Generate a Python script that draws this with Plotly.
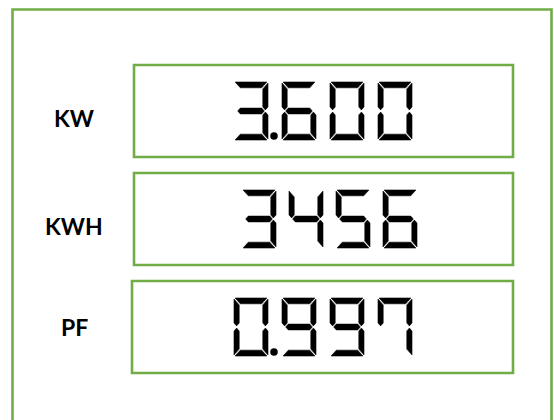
import plotly.graph_objects as go

# ---- data ----
labels = ["KW", "KWH", "PF"]
values = ["3.600", "3456", "0.997"]

# ---- layout / style ----
W_PX, H_PX = 554, 420
GREEN = "#70AD47"
boxes_x0 = [134, 134, 132]
boxes_x1 = [513, 513, 513]
boxes_y0 = [65, 173, 281]
boxes_y1 = [157, 265, 373]
digit_start = [234, 242, 234]
digit_pitch = [48, 47, 48]
DIG_W, DIG_H, TH, TV, GAP = 34, 58, 5.8, 5.2, 1.1
label_x = 74
label_dy = [7, 7, 0]

SEGS = {"0": "abcdef", "1": "bc", "2": "abdeg", "3": "abcdg", "4": "bcfg",
        "5": "acdfg", "6": "acdefg", "7": "abcf", "8": "abcdefg", "9": "abcdfg"}


def seg_poly(s, L, Tp):
    R, B = L + DIG_W, Tp + DIG_H
    M = Tp + DIG_H / 2
    h, v, e = TH, TV, GAP
    if s == "a":
        return [(L + e, Tp), (R - e, Tp), (R - v - e, Tp + h), (L + v + e, Tp + h)]
    if s == "d":
        return [(L + e, B), (R - e, B), (R - v - e, B - h), (L + v + e, B - h)]
    if s == "g":
        return [(L + v / 2 + e, M), (L + v + e, M - h / 2), (R - v - e, M - h / 2),
                (R - v / 2 - e, M), (R - v - e, M + h / 2), (L + v + e, M + h / 2)]
    if s == "f":
        return [(L, Tp + e), (L + v, Tp + h + e), (L + v, M - h / 2 - e), (L + v / 2, M - e), (L, M - h / 2 - e)]
    if s == "b":
        return [(R, Tp + e), (R - v, Tp + h + e), (R - v, M - h / 2 - e), (R - v / 2, M - e), (R, M - h / 2 - e)]
    if s == "e":
        return [(L, B - e), (L + v, B - h - e), (L + v, M + h / 2 + e), (L + v / 2, M + e), (L, M + h / 2 + e)]
    if s == "c":
        return [(R, B - e), (R - v, B - h - e), (R - v, M + h / 2 + e), (R - v / 2, M + e), (R, M + h / 2 + e)]


fig = go.Figure()
shapes = []
annotations = []

# outer frame
shapes.append(dict(type="rect", xref="x", yref="y", x0=12.5, x1=551.5, y0=9.5, y1=440,
                   line=dict(color=GREEN, width=2.6), fillcolor="rgba(0,0,0,0)", layer="below"))

for i, (lab, val) in enumerate(zip(labels, values)):
    shapes.append(dict(type="rect", xref="x", yref="y", x0=boxes_x0[i], x1=boxes_x1[i],
                       y0=boxes_y0[i], y1=boxes_y1[i],
                       line=dict(color=GREEN, width=2.6), fillcolor="white", layer="below"))
    cy = (boxes_y0[i] + boxes_y1[i]) / 2
    top = cy - DIG_H / 2
    annotations.append(dict(x=label_x, y=cy + label_dy[i], xref="x", yref="y", text="<b>%s</b>" % lab,
                            showarrow=False, xanchor="center", yanchor="middle",
                            font=dict(family="Lato", size=23, color="black")))
    k = 0
    for ch in val:
        if ch == ".":
            dx = digit_start[i] + k * digit_pitch[i] - (digit_pitch[i] - DIG_W) / 2 - 1
            fig.add_trace(go.Scatter(x=[dx], y=[top + DIG_H - 4], mode="markers",
                                     marker=dict(color="black", size=7.5, line=dict(width=0)),
                                     hoverinfo="skip", showlegend=False))
            continue
        L = digit_start[i] + k * digit_pitch[i]
        for s in SEGS[ch]:
            pts = seg_poly(s, L, top)
            xs = [p[0] for p in pts] + [pts[0][0]]
            ys = [p[1] for p in pts] + [pts[0][1]]
            fig.add_trace(go.Scatter(x=xs, y=ys, mode="lines", fill="toself",
                                     fillcolor="black", line=dict(width=0.6, color="black"),
                                     hoverinfo="skip", showlegend=False))
        k += 1

fig.update_layout(
    width=W_PX, height=H_PX, margin=dict(l=0, r=0, t=0, b=0),
    paper_bgcolor="white", plot_bgcolor="white",
    xaxis=dict(range=[0, W_PX], visible=False, fixedrange=True),
    yaxis=dict(range=[H_PX, 0], visible=False, fixedrange=True),
    shapes=shapes, annotations=annotations, showlegend=False,
)
fig.write_html("out.html", config={"displayModeBar": False},
               post_script="document.body.style.margin='0';document.body.style.overflow='hidden';")
